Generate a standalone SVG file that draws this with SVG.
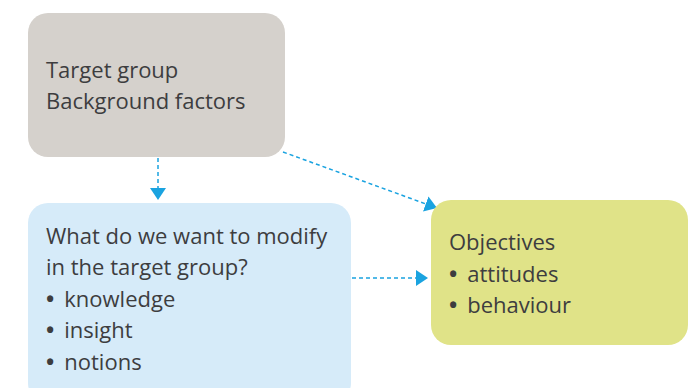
<svg xmlns="http://www.w3.org/2000/svg" width="694" height="388" viewBox="0 0 694 388">
<style>
text{font-family:"Open Sans","DejaVu Sans",sans-serif;font-size:22px;fill:#3d3d3f}
.b{font-weight:bold}
.c{fill:none;stroke:#1aa3e0;stroke-width:1.5;stroke-dasharray:4 3}
</style>
<defs>
<marker id="ah" viewBox="0 0 12 16" refX="12" refY="8" markerWidth="12" markerHeight="16" markerUnits="userSpaceOnUse" orient="auto">
<path d="M0,0 L12,8 L0,16 Z" fill="#1aa3e0"/>
</marker>
</defs>
<rect width="694" height="388" fill="#fff"/>
<g id="connectors">
<path class="c" d="M158,158 V200" marker-end="url(#ah)"/>
<path class="c" d="M283,152 L437,208" marker-end="url(#ah)"/>
<path class="c" d="M352,278 H428" marker-end="url(#ah)"/>
</g>
<g id="target">
<rect x="28" y="13" width="257" height="144" rx="20" fill="#d5d1cc"/>
<text x="46" y="78">Target group</text>
<text x="46" y="109">Background factors</text>
</g>
<g id="modify">
<rect x="28" y="203" width="323" height="200" rx="20" fill="#d6ebf9"/>
<text x="46" y="244">What do we want to modify</text>
<text x="46" y="275">in the target group?</text>
<text x="46" y="307"><tspan class="b">•</tspan><tspan dx="10">knowledge</tspan></text>
<text x="46" y="338"><tspan class="b">•</tspan><tspan dx="10">insight</tspan></text>
<text x="46" y="370"><tspan class="b">•</tspan><tspan dx="10">notions</tspan></text>
</g>
<g id="objectives">
<rect x="431" y="200" width="257" height="145" rx="20" fill="#e0e388"/>
<text x="449" y="250">Objectives</text>
<text x="449" y="282"><tspan class="b">•</tspan><tspan dx="10">attitudes</tspan></text>
<text x="449" y="313"><tspan class="b">•</tspan><tspan dx="10">behaviour</tspan></text>
</g>
</svg>
